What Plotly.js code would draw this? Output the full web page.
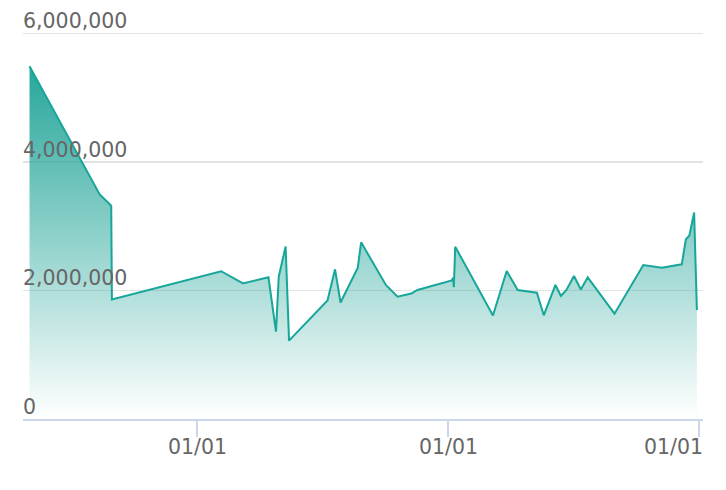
<!DOCTYPE html>
<html>
<head>
<meta charset="utf-8">
<script src="https://cdn.plot.ly/plotly-3.0.1.min.js"></script>
<style>
  html, body { margin: 0; padding: 0; background: #ffffff; }
  #chart { width: 726px; height: 490px; }
</style>
</head>
<body>
<div id="chart"></div>
<script>
// ---- data ----
const dates = [
  '2019-05-02', '2019-08-12', '2019-08-29', '2019-08-30',
  '2020-02-05', '2020-03-08', '2020-04-14', '2020-04-25', '2020-04-29',
  '2020-05-09', '2020-05-14', '2020-07-09', '2020-07-20', '2020-07-28',
  '2020-08-22', '2020-08-27', '2020-10-02', '2020-10-19', '2020-11-08',
  '2020-11-17', '2021-01-06', '2021-01-08', '2021-01-09', '2021-01-11',
  '2021-03-07', '2021-03-27', '2021-04-12', '2021-05-10', '2021-05-20',
  '2021-06-06', '2021-06-14', '2021-06-22', '2021-07-03', '2021-07-13',
  '2021-07-23', '2021-08-31', '2021-10-12', '2021-11-08', '2021-12-07',
  '2021-12-13', '2021-12-18', '2021-12-25', '2021-12-29'
];
const values = [
  5490000, 3500000, 3320000, 1860000,
  2300000, 2110000, 2205000, 1360000, 2215000,
  2685000, 1220000, 1845000, 2330000, 1813000,
  2350000, 2750000, 2086000, 1904000, 1953000,
  2008000, 2156000, 2199000, 2050000, 2682000,
  1611000, 2303000, 2008000, 1966000, 1614000,
  2086000, 1914000, 2008000, 2226000, 2016000,
  2205000, 1639000, 2397000, 2355000, 2408000,
  2797000, 2853000, 3214000, 1696000
];
const xTickVals = ['2020-01-01', '2021-01-01', '2022-01-01'];
const xTickText = ['01/01', '01/01', '01/01'];
const yTickVals = [0, 2000000, 4000000, 6000000];
const yTickText = ['0', '2,000,000', '4,000,000', '6,000,000'];

// ---- chart ----
const teal = '38,166,154';
const labelFont = { family: 'DejaVu Sans, Verdana, sans-serif', size: 20.5, color: '#666666' };

const trace = {
  type: 'scatter',
  mode: 'lines',
  x: dates,
  y: values,
  line: { color: '#17a69a', width: 2 },
  fill: 'tozeroy',
  fillgradient: {
    type: 'vertical',
    start: 0,
    stop: Math.max(...values),
    colorscale: [[0, 'rgba(' + teal + ',0)'], [1, 'rgba(' + teal + ',1)']]
  },
  hoverinfo: 'x+y'
};

// x tick labels as annotations so that the last one can be kept inside the page
const xAnnotations = xTickVals.map((v, i) => {
  const last = i === xTickVals.length - 1;
  return {
    x: v, xref: 'x',
    y: 0, yref: 'paper',
    text: xTickText[i],
    showarrow: false,
    xanchor: last ? 'right' : 'center',
    xshift: last ? 6 : 0,
    yanchor: 'top',
    yshift: -14,
    font: labelFont
  };
});

const layout = {
  width: 726,
  height: 490,
  margin: { l: 23, r: 23, t: 10, b: 71, pad: 0 },
  paper_bgcolor: '#ffffff',
  plot_bgcolor: '#ffffff',
  showlegend: false,
  font: labelFont,
  xaxis: {
    type: 'date',
    range: ['2019-04-22 12:00', '2022-01-06 22:00'],
    tickvals: xTickVals,
    ticktext: xTickText,
    showticklabels: false,
    ticks: 'outside',
    ticklen: 16,
    tickwidth: 2,
    tickcolor: '#ccd6eb',
    showline: true,
    linecolor: '#ccd6eb',
    linewidth: 2,
    showgrid: false,
    zeroline: false
  },
  yaxis: {
    range: [0, 6000000 * 409 / 385.5],
    tickvals: yTickVals,
    ticktext: yTickText,
    ticklabelposition: 'inside top',
    ticklabeloverflow: 'allow',
    ticklabelstandoff: -3,
    ticklabelshift: 2,
    ticks: '',
    showline: false,
    showgrid: true,
    gridcolor: '#e3e3e3',
    gridwidth: 1.5,
    zeroline: false,
    tickfont: labelFont
  },
  annotations: xAnnotations
};

Plotly.newPlot('chart', [trace], layout, { displayModeBar: false, staticPlot: true });
</script>
</body>
</html>
